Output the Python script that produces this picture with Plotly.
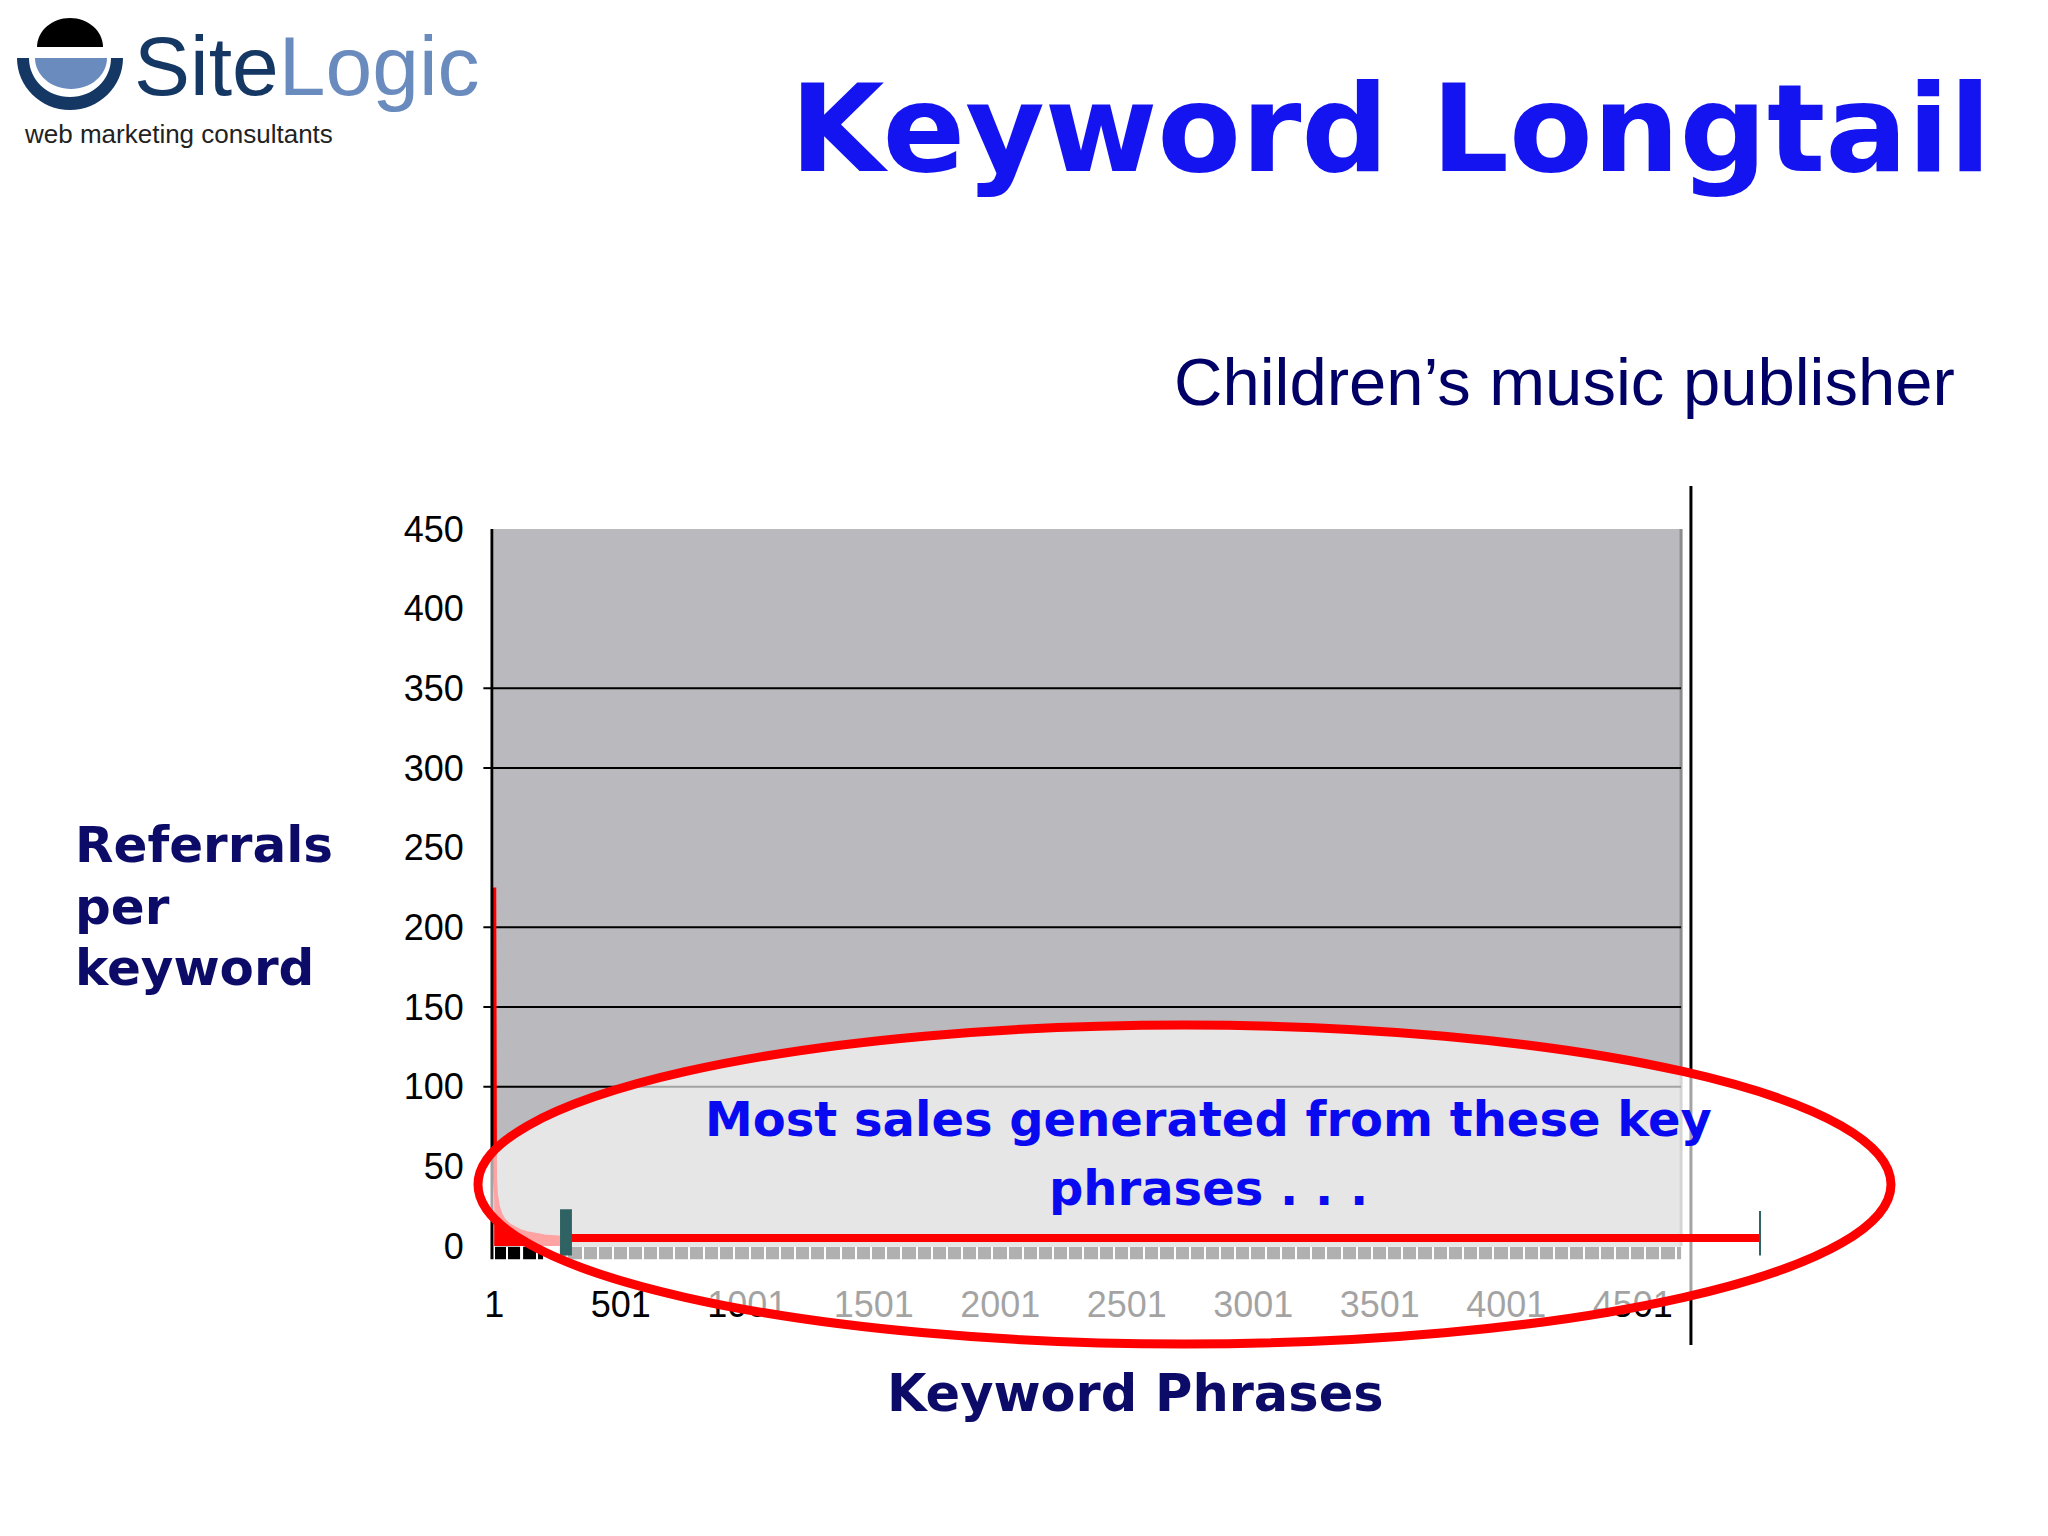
import plotly.graph_objects as go

W, H = 2048, 1536

# ---------------- data ----------------
keyword_rank = [1, 2, 4, 8, 15, 25, 40, 60, 80, 100, 130, 160, 200, 240, 280]
referrals = [225, 55, 42, 32, 25, 20, 16, 13, 11, 9.5, 8, 7, 6, 5.5, 5]

y_tick_vals = [0, 50, 100, 150, 200, 250, 300, 350, 400, 450]
gridline_vals = [100, 150, 200, 300, 350]
x_tick_vals = [1, 501, 1001, 1501, 2001, 2501, 3001, 3501, 4001, 4501]
top_block_ranges = [(4, 103), (115, 194)]
x_last_keyword = 4692
bracket_start, bracket_end = 281, 5004

x_range = [-60, 5100]
y_range = [-8.5, 450]


def px(x):
    return x / W


def py(y):
    return 1 - y / H


def path_from_px(cmds):
    out = []
    for c in cmds:
        if c == "Z":
            out.append("Z")
            continue
        op, pts = c[0], c[1:]
        out.append(op + " " + " ".join(f"{px(a):.5f},{py(b):.5f}" for a, b in pts))
    return " ".join(out)


fig = go.Figure()

fig.add_trace(go.Scatter(
    x=keyword_rank, y=referrals, mode="lines", fill="tozeroy",
    line=dict(color="#ff0000", width=4), fillcolor="#ff0000",
    hoverinfo="skip", showlegend=False,
))

VEIL = "rgba(255,255,255,0.64)"
ellipse_box = dict(x0=px(478), x1=px(1891), y0=py(1344), y1=py(1025))

shapes = []
# gray plot background
shapes.append(dict(type="rect", xref="x", yref="y", x0=0, x1=x_last_keyword, y0=0, y1=450,
                   fillcolor="#bab9bd", line=dict(width=0), layer="below"))
shapes.append(dict(type="line", xref="x", yref="y", x0=x_last_keyword, x1=x_last_keyword, y0=0, y1=450,
                   line=dict(color="#8c8c8c", width=3), layer="below"))
# gridlines with left ticks
for g in gridline_vals:
    shapes.append(dict(type="line", xref="x", yref="y", x0=-42, x1=x_last_keyword, y0=g, y1=g,
                       line=dict(color="#000000", width=2), layer="below"))
# category strip below zero
shapes.append(dict(type="rect", xref="x", yref="y", x0=260, x1=x_last_keyword, y0=-8.5, y1=-0.5,
                   fillcolor="#262626", line=dict(width=0), layer="below"))
for a, b in top_block_ranges:
    shapes.append(dict(type="rect", xref="x", yref="y", x0=a, x1=b, y0=-8.5, y1=-0.5,
                       fillcolor="#000000", line=dict(width=0), layer="below"))
# y axis line
shapes.append(dict(type="line", xref="x", yref="y", x0=-8, x1=-8, y0=-8.5, y1=450,
                   line=dict(color="#000000", width=3), layer="above"))
# right vertical line
shapes.append(dict(type="line", xref="x", yref="paper", x0=4731, x1=4731, y0=py(1345), y1=py(486),
                   line=dict(color="#000000", width=3), layer="above"))
# highlight ellipse: veil fill
shapes.append(dict(type="circle", xref="paper", yref="paper", fillcolor=VEIL,
                   line=dict(width=0), layer="above", **ellipse_box))
# bracket
shapes.append(dict(type="line", xref="x", yref="y", x0=bracket_start, x1=bracket_end, y0=5, y1=5,
                   line=dict(color="#ff0000", width=8), layer="above"))
shapes.append(dict(type="rect", xref="x", yref="y", x0=bracket_start - 20, x1=bracket_start + 27, y0=-6, y1=23,
                   fillcolor="#2f6262", line=dict(width=0), layer="above"))
shapes.append(dict(type="line", xref="x", yref="y", x0=bracket_end, x1=bracket_end, y0=-6, y1=22,
                   line=dict(color="#2f6262", width=2), layer="above"))
# ellipse outline
shapes.append(dict(type="circle", xref="paper", yref="paper", fillcolor="rgba(0,0,0,0)",
                   line=dict(color="#ff0000", width=9), layer="above", **ellipse_box))

# logo icon
shapes.append(dict(type="path", xref="paper", yref="paper", layer="above", line=dict(width=0),
                   fillcolor="#000000",
                   path=path_from_px([("M", (37, 47)), ("C", (37, 31), (51.8, 18), (70, 18)),
                                      ("C", (88.2, 18), (103, 31), (103, 47)), "Z"])))
shapes.append(dict(type="path", xref="paper", yref="paper", layer="above", line=dict(width=0),
                   fillcolor="#6a8bbd",
                   path=path_from_px([("M", (35, 58)), ("C", (35, 75), (51, 89), (71, 89)),
                                      ("C", (91, 89), (107, 75), (107, 58)), "Z"])))
shapes.append(dict(type="path", xref="paper", yref="paper", layer="above", line=dict(width=0),
                   fillcolor="#143764",
                   path=path_from_px([("M", (17, 58)), ("C", (17, 86.7), (40.7, 110), (70, 110)),
                                      ("C", (99.3, 110), (123, 86.7), (123, 58)),
                                      ("L", (111, 58)), ("C", (111, 80), (92.6, 97), (70, 97)),
                                      ("C", (47.4, 97), (29, 80), (29, 58)), "Z"])))

annotations = []


def add_text(text, x, y, size, color, family="DejaVu Sans", xanchor="center", bold=False):
    annotations.append(dict(xref="paper", yref="paper", x=px(x), y=py(y), xanchor=xanchor,
                            yanchor="middle", showarrow=False,
                            text=f"<b>{text}</b>" if bold else text,
                            font=dict(family=family, size=size, color=color)))


add_text('<span style="color:#143764">Site</span><span style="color:#6a8bbd">Logic</span>',
         132, 66, 84, "#143764", family="Liberation Sans", xanchor="left")
add_text("web marketing consultants", 22, 134, 26, "#222222", family="Liberation Sans", xanchor="left")
add_text("Keyword Longtail", 1390, 129, 122, "#1414f0", bold=True)
add_text("Children’s music publisher", 1564, 381, 67, "#000066", family="Liberation Sans")
add_text("Referrals", 73, 845, 50, "#0c0c68", xanchor="left", bold=True)
add_text("per", 73, 907, 50, "#0c0c68", xanchor="left", bold=True)
add_text("keyword", 73, 968, 50, "#0c0c68", xanchor="left", bold=True)
add_text("Keyword Phrases", 1135, 1393, 51, "#0c0c68", bold=True)
add_text("Most sales generated from these key", 1208, 1119, 48, "#0a0af0", bold=True)
add_text("phrases . . .", 1208, 1188, 48, "#0a0af0", bold=True)

x0_px = 494
x_scale = 0.2530
y0_px = 1246
y_scale = (1246 - 529) / 450.0

fig.update_layout(
    width=W, height=H, margin=dict(l=0, r=0, t=0, b=0, pad=0, autoexpand=False),
    paper_bgcolor="#ffffff", plot_bgcolor="rgba(0,0,0,0)",
    showlegend=False, shapes=shapes, annotations=annotations,
    xaxis=dict(
        domain=[px(x0_px + x_range[0] * x_scale), px(x0_px + x_range[1] * x_scale)],
        range=x_range, showgrid=False, zeroline=False, showline=False, automargin=False,
        tickmode="array", tickvals=x_tick_vals, ticks="",
        ticklabelstandoff=20,
        tickfont=dict(family="Liberation Sans", size=36, color="#000000"),
        minor=dict(ticks="inside", dtick=60, tick0=50, ticklen=13, tickwidth=2,
                   tickcolor="#ffffff", showgrid=False),
    ),
    yaxis=dict(
        domain=[py(y0_px - y_range[0] * y_scale), py(y0_px - y_range[1] * y_scale)],
        range=y_range, showgrid=False, zeroline=False, showline=False, automargin=False,
        tickmode="array", tickvals=y_tick_vals, ticks="", ticklabelstandoff=14,
        tickfont=dict(family="Liberation Sans", size=36, color="#000000"),
    ),
)

fig.write_html("out.html", config={"displayModeBar": False},
               post_script="document.body.style.margin='0';")
